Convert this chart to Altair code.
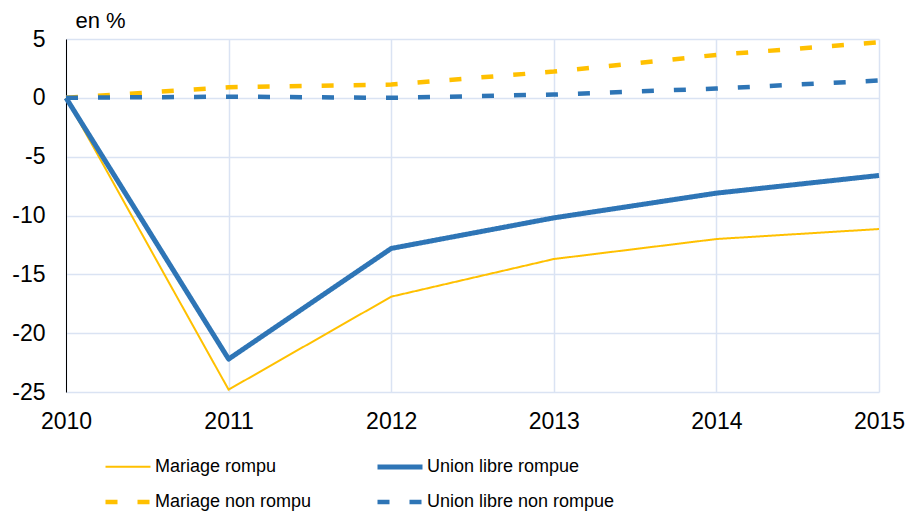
import altair as alt
import pandas as pd

years = [2010, 2011, 2012, 2013, 2014, 2015]
series_names = ["Mariage rompu", "Union libre rompue", "Mariage non rompu", "Union libre non rompue"]
mariage_rompu = [0, -24.8, -16.9, -13.7, -12.0, -11.15]
union_rompue = [0, -22.2, -12.8, -10.2, -8.1, -6.6]
mariage_non_rompu = [0, 0.9, 1.13, 2.23, 3.65, 4.72]
union_non_rompue = [0, 0.1, 0.0, 0.28, 0.79, 1.47]
y_ticks = [-25, -20, -15, -10, -5, 0, 5]

colors = ["#FFC000", "#2E75B6", "#FFC000", "#2E75B6"]
dashes = [[1, 0], [1, 0], [12, 20], [12, 20]]
widths = [2, 5, 4.5, 4.5]

rows = []
for name, vals in zip(series_names, [mariage_rompu, union_rompue, mariage_non_rompu, union_non_rompue]):
    for yr, v in zip(years, vals):
        rows.append({"year": yr, "value": v, "series": name})
df = pd.DataFrame(rows)

grid_color = "#DAE3F3"
font = "Liberation Sans, Arial, sans-serif"


def legend():
    return alt.Legend(title=None, orient="none", direction="horizontal",
                      legendX=37, legendY=403,
                      columns=2, columnPadding=55, rowPadding=0,
                      symbolType="stroke", symbolSize=2025,
                      labelFont=font,
                      labelFontSize=18, labelColor="black", labelOffset=2,
                      labelLimit=400)


chart = alt.Chart(df).mark_line(strokeCap="butt", strokeJoin="round").encode(
    x=alt.X("year:Q",
            scale=alt.Scale(domain=[2010, 2015], nice=False, zero=False),
            axis=alt.Axis(values=years, format="d", title=None, grid=True, domain=False,
                          ticks=False, labelFontSize=23, labelPadding=18, labelColor="black",
                          labelFlush=False, labelOverlap=False,
                          labelFont=font, gridColor=grid_color, gridWidth=1.5)),
    y=alt.Y("value:Q",
            scale=alt.Scale(domain=[-25, 5], nice=False, zero=False),
            axis=alt.Axis(values=y_ticks, title="en %", titleAngle=0, titleAlign="left",
                          titleBaseline="alphabetic", titleX=9, titleY=-12, titleFontSize=22,
                          titleFontWeight="normal", titleFont=font, titleColor="black",
                          domain=True, domainColor="black", domainWidth=1,
                          ticks=False, labelFontSize=23, labelPadding=21, labelColor="black",
                          labelExpr="'' + datum.value", labelOverlap=False,
                          labelFont=font, grid=True, gridColor=grid_color, gridWidth=1.5)),
    color=alt.Color("series:N",
                    scale=alt.Scale(domain=series_names, range=colors),
                    legend=legend()),
    strokeDash=alt.StrokeDash("series:N",
                              scale=alt.Scale(domain=series_names, range=dashes),
                              legend=legend()),
    strokeWidth=alt.StrokeWidth("series:N",
                                scale=alt.Scale(type="ordinal", domain=series_names, range=widths),
                                legend=legend()),
    order=alt.Order("year:Q"),
).properties(
    width=813, height=353,
    padding={"left": 58, "top": 31, "right": 26, "bottom": 120},
    autosize=alt.AutoSizeParams(type="none"),
).configure_view(stroke=None)

chart.save("out.html", embed_options={"renderer": "svg", "actions": False})
